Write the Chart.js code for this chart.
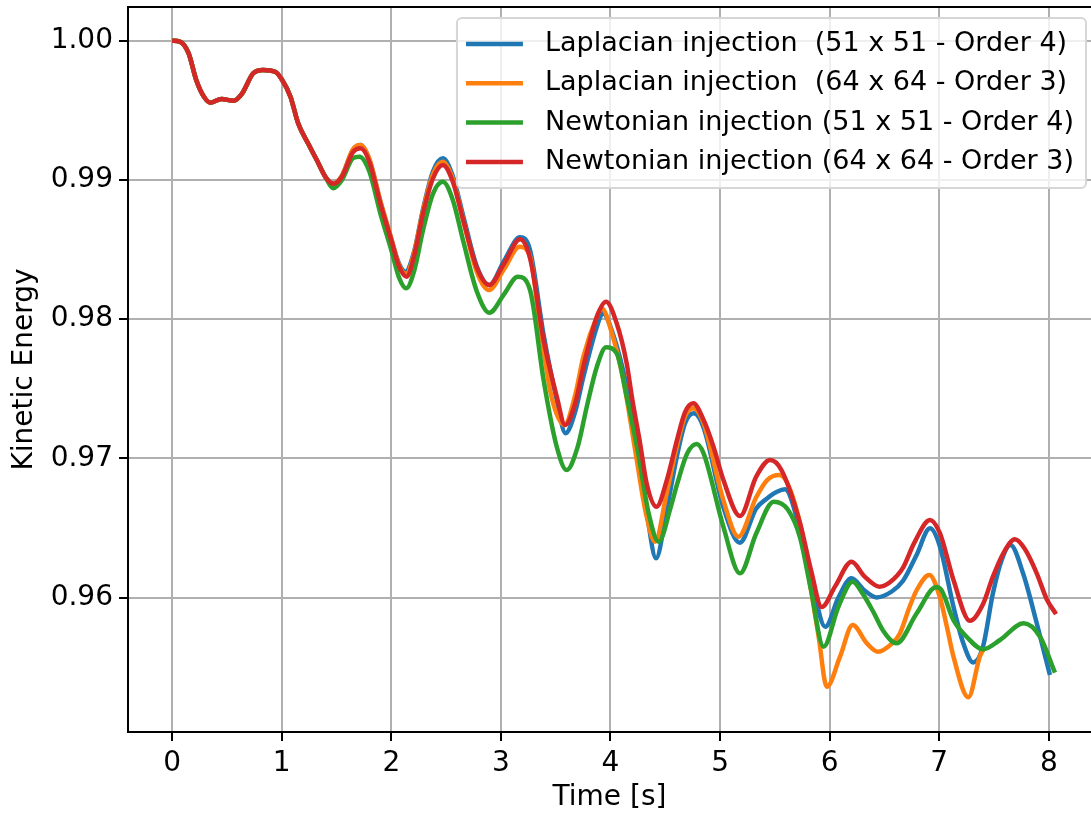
<!DOCTYPE html>
<html>
<head>
<meta charset="utf-8">
<script src="https://cdn.jsdelivr.net/npm/chart.js@4.4.1/dist/chart.umd.min.js"></script>
<style>
  body { margin: 0; background: #fff; overflow: hidden; }
  canvas { display: block; }
</style>
</head>
<body>
<canvas id="chart" width="1091" height="813"></canvas>
<script>
// [time, kinetic energy]
const startCurve = [
  [0, 1.0000], [0.07, 0.99993], [0.15, 0.9991], [0.22, 0.99718], [0.29, 0.99598],
  [0.35, 0.99555], [0.45, 0.99581], [0.56, 0.99569], [0.64, 0.99622], [0.74, 0.99766],
  [0.83, 0.99790], [0.94, 0.99777], [1.0, 0.99723], [1.08, 0.99598], [1.15, 0.99407],
  [1.24, 0.99263], [1.32, 0.99143], [1.40, 0.99020],
];

const laplace51 = [
  [1.47, 0.98975], [1.55, 0.99030], [1.65, 0.99215], [1.72, 0.99250], [1.80, 0.99145],
  [1.90, 0.98845], [2.00, 0.98575], [2.07, 0.98400], [2.13, 0.98341], [2.21, 0.98490],
  [2.29, 0.98790], [2.38, 0.99060], [2.47, 0.99155], [2.56, 0.99030], [2.66, 0.98730],
  [2.78, 0.98380], [2.895, 0.98245], [3.03, 0.98420], [3.175, 0.98588], [3.266, 0.98496],
  [3.39, 0.97886], [3.51, 0.97419], [3.59, 0.97180], [3.68, 0.97340], [3.753, 0.97586],
  [3.876, 0.97945], [3.93, 0.98042], [4.02, 0.97900], [4.148, 0.97514], [4.25, 0.97050],
  [4.33, 0.96620], [4.416, 0.96282], [4.513, 0.96629], [4.605, 0.97010], [4.68, 0.97250],
  [4.76, 0.97323], [4.85, 0.97220], [5.03, 0.96650], [5.18, 0.96394], [5.33, 0.96640],
  [5.426, 0.96710], [5.52, 0.96760], [5.593, 0.96777], [5.73, 0.96485], [5.83, 0.96149],
  [5.96, 0.95790], [6.08, 0.96000], [6.20, 0.96138], [6.32, 0.96050], [6.43, 0.96001],
  [6.57, 0.96045], [6.67, 0.96120], [6.79, 0.96300], [6.916, 0.96497], [7.007, 0.96365],
  [7.13, 0.95934], [7.22, 0.95671], [7.31, 0.95534], [7.40, 0.95650], [7.49, 0.96030],
  [7.57, 0.96270], [7.65, 0.96377], [7.765, 0.96174], [7.89, 0.95815], [8.01, 0.95443],
];

const laplace64 = [
  [1.47, 0.98975], [1.55, 0.99030], [1.65, 0.99220], [1.72, 0.99251], [1.80, 0.99150],
  [1.90, 0.98850], [2.00, 0.98580], [2.07, 0.98390], [2.135, 0.98325], [2.21, 0.98480],
  [2.29, 0.98780], [2.38, 0.99040], [2.47, 0.99131], [2.56, 0.99010], [2.66, 0.98700],
  [2.78, 0.98340], [2.89, 0.98209], [3.03, 0.98360], [3.17, 0.98520], [3.266, 0.98450],
  [3.358, 0.97945], [3.46, 0.97450], [3.58, 0.97240], [3.68, 0.97460], [3.753, 0.97730],
  [3.876, 0.98017], [3.92, 0.98078], [4.02, 0.97880], [4.118, 0.97562], [4.24, 0.96988],
  [4.32, 0.96620], [4.407, 0.96401], [4.513, 0.96749], [4.605, 0.97083], [4.68, 0.97300],
  [4.756, 0.97359], [4.85, 0.97250], [5.03, 0.96700], [5.167, 0.96437], [5.33, 0.96720],
  [5.43, 0.96844], [5.54, 0.96880], [5.73, 0.96533], [5.83, 0.96054], [5.90, 0.95718],
  [5.974, 0.95359], [6.095, 0.95575], [6.21, 0.95802], [6.34, 0.95671], [6.44, 0.95611],
  [6.57, 0.95671], [6.64, 0.95740], [6.73, 0.95934], [6.795, 0.96054], [6.91, 0.96162],
  [7.007, 0.96000], [7.07, 0.95790], [7.13, 0.95575], [7.266, 0.95283], [7.37, 0.95575],
  [7.40, 0.95623],
];

const newton51 = [
  [1.47, 0.98940], [1.55, 0.99000], [1.65, 0.99155], [1.71, 0.99167], [1.80, 0.99060],
  [1.90, 0.98760], [2.00, 0.98496], [2.07, 0.98300], [2.137, 0.98221], [2.21, 0.98350],
  [2.29, 0.98640], [2.38, 0.98900], [2.47, 0.98987], [2.56, 0.98860], [2.66, 0.98550],
  [2.78, 0.98200], [2.895, 0.98046], [3.03, 0.98180], [3.154, 0.98305], [3.266, 0.98209],
  [3.39, 0.97562], [3.51, 0.97083], [3.60, 0.96916], [3.70, 0.97080], [3.784, 0.97371],
  [3.876, 0.97658], [3.96, 0.97797], [4.057, 0.97754], [4.148, 0.97443], [4.25, 0.97050],
  [4.35, 0.96600], [4.44, 0.96401], [4.55, 0.96650], [4.61, 0.96820], [4.70, 0.97035],
  [4.787, 0.97103], [4.85, 0.97035], [5.03, 0.96509], [5.182, 0.96174], [5.33, 0.96460],
  [5.49, 0.96688], [5.62, 0.96630], [5.73, 0.96430], [5.83, 0.96054], [5.945, 0.95647],
  [6.08, 0.95934], [6.21, 0.96114], [6.30, 0.96030], [6.40, 0.95895], [6.49, 0.95760],
  [6.61, 0.95671], [6.795, 0.95887], [6.97, 0.96073], [7.007, 0.96066], [7.13, 0.95838],
  [7.25, 0.95718], [7.40, 0.95628], [7.555, 0.95695], [7.77, 0.95815], [7.92, 0.95718],
  [8.056, 0.95460],
];

const newton64 = [
  [1.47, 0.98972], [1.55, 0.99023], [1.65, 0.99200], [1.72, 0.99227], [1.80, 0.99130],
  [1.90, 0.98832], [2.00, 0.98568], [2.07, 0.98380], [2.14, 0.98305], [2.21, 0.98460],
  [2.29, 0.98760], [2.38, 0.99010], [2.47, 0.99107], [2.56, 0.98990], [2.66, 0.98700],
  [2.78, 0.98370], [2.895, 0.98245], [3.03, 0.98400], [3.175, 0.98573], [3.27, 0.98425],
  [3.39, 0.97850], [3.51, 0.97443], [3.586, 0.97239], [3.68, 0.97400], [3.753, 0.97658],
  [3.876, 0.98017], [3.96, 0.98125], [4.057, 0.97970], [4.148, 0.97682], [4.20, 0.97420],
  [4.27, 0.97110], [4.33, 0.96820], [4.42, 0.96652], [4.513, 0.96840], [4.61, 0.97140],
  [4.68, 0.97330], [4.756, 0.97395], [4.85, 0.97275], [4.94, 0.97083], [5.03, 0.96846],
  [5.182, 0.96585], [5.33, 0.96868], [5.456, 0.96988], [5.56, 0.96916], [5.73, 0.96533],
  [5.83, 0.96198], [5.928, 0.95932], [6.05, 0.96080], [6.20, 0.96257], [6.32, 0.96150],
  [6.454, 0.96078], [6.55, 0.96110], [6.67, 0.96215], [6.77, 0.96389], [6.916, 0.96557],
  [7.007, 0.96461], [7.13, 0.96126], [7.28, 0.95833], [7.40, 0.95954], [7.49, 0.96150],
  [7.585, 0.96318], [7.69, 0.96418], [7.78, 0.96350], [7.89, 0.96174], [7.98, 0.95990],
  [8.066, 0.95881],
];

const labels = [
  "Laplacian injection  (51 x 51 - Order 4)",
  "Laplacian injection  (64 x 64 - Order 3)",
  "Newtonian injection (51 x 51 - Order 4)",
  "Newtonian injection (64 x 64 - Order 3)",
];
const colors = ["#1f77b4", "#ff7f0e", "#2ca02c", "#d62728"];
const series = [laplace51, laplace64, newton51, newton64];

const font = { family: "'DejaVu Sans'", size: 28 };
const legendFont = { family: "'DejaVu Sans'", size: 27 };

// later series are drawn on top, like matplotlib
const makeDataset = (i) => ({
  label: labels[i],
  data: startCurve.concat(series[i]).map(([x, y]) => ({ x, y })),
  borderColor: colors[i],
  backgroundColor: colors[i],
  borderWidth: 4.5,
  pointRadius: 0,
  fill: false,
  cubicInterpolationMode: "monotone",
  order: series.length - 1 - i,
});

// top spine (matplotlib frame)
const spines = {
  id: "spines",
  afterDraw(chart) {
    const { ctx, chartArea } = chart;
    ctx.save();
    ctx.strokeStyle = "#000";
    ctx.lineWidth = 2;
    ctx.beginPath();
    ctx.moveTo(chartArea.left - 1, chartArea.top);
    ctx.lineTo(chartArea.right, chartArea.top);
    ctx.stroke();
    ctx.restore();
  },
};

// matplotlib style legend box in the upper right corner
const legendBox = {
  id: "legendBox",
  afterDraw(chart) {
    const { ctx, chartArea } = chart;
    const sets = chart.data.datasets;
    ctx.save();
    ctx.font = `${legendFont.size}px ${legendFont.family}`;
    const textW = Math.max(...sets.map((d) => ctx.measureText(d.label).width));
    const padL = 9, handle = 57, gap = 22, padR = 12, rowH = 39.3;
    const w = padL + handle + gap + textW + padR;
    const h = 170;
    const right = chartArea.right - 5;
    const left = right - w;
    const top = chartArea.top + 11;

    ctx.beginPath();
    ctx.roundRect(left, top, w, h, 5);
    ctx.fillStyle = "rgba(255,255,255,0.8)";
    ctx.fill();
    ctx.strokeStyle = "#d6d6d6";
    ctx.lineWidth = 2;
    ctx.stroke();

    ctx.textBaseline = "middle";
    ctx.textAlign = "left";
    sets.forEach((d, i) => {
      const y = top + 26 + i * rowH;
      ctx.strokeStyle = d.borderColor;
      ctx.lineWidth = 4.5;
      ctx.beginPath();
      ctx.moveTo(left + padL, y);
      ctx.lineTo(left + padL + handle, y);
      ctx.stroke();
      ctx.fillStyle = "#000";
      ctx.fillText(d.label, left + padL + handle + gap, y);
    });
    ctx.restore();
  },
};

new Chart(document.getElementById("chart"), {
  type: "line",
  data: {
    datasets: [0, 1, 2, 3].map(makeDataset),
  },
  options: {
    responsive: false,
    animation: false,
    layout: { padding: { top: 7, right: 0, bottom: 0, left: 0 } },
    plugins: {
      legend: { display: false },
      tooltip: { enabled: false },
    },
    scales: {
      x: {
        type: "linear",
        min: -0.4025,
        max: 8.385,
        afterFit: (scale) => {
          scale.height = 81;
          scale.paddingLeft = 0;
          scale.paddingRight = 0;
        },
        ticks: {
          stepSize: 1,
          includeBounds: false,
          font: font,
          color: "#000",
          padding: 6,
          maxRotation: 0,
        },
        grid: {
          color: "#b0b0b0",
          lineWidth: 2,
          tickColor: "#000",
          tickLength: 9,
          tickWidth: 2,
        },
        border: { color: "#000", width: 2 },
        title: {
          display: true,
          text: "Time [s]",
          font: font,
          color: "#000",
          padding: { top: 0, bottom: -2 },
        },
      },
      y: {
        type: "linear",
        min: 0.95034,
        max: 1.00242,
        afterFit: (scale) => {
          scale.width = 128;
          scale.paddingTop = 0;
          scale.paddingBottom = 0;
        },
        ticks: {
          stepSize: 0.01,
          includeBounds: false,
          font: font,
          color: "#000",
          padding: 6,
          callback: (v) => v.toFixed(2),
        },
        grid: {
          color: "#b0b0b0",
          lineWidth: 2,
          tickColor: "#000",
          tickLength: 9,
          tickWidth: 2,
        },
        border: { color: "#000", width: 2 },
        title: {
          display: true,
          text: "Kinetic Energy",
          font: font,
          color: "#000",
          padding: { top: 8, bottom: 0 },
        },
      },
    },
  },
  plugins: [spines, legendBox],
});
</script>
</body>
</html>
